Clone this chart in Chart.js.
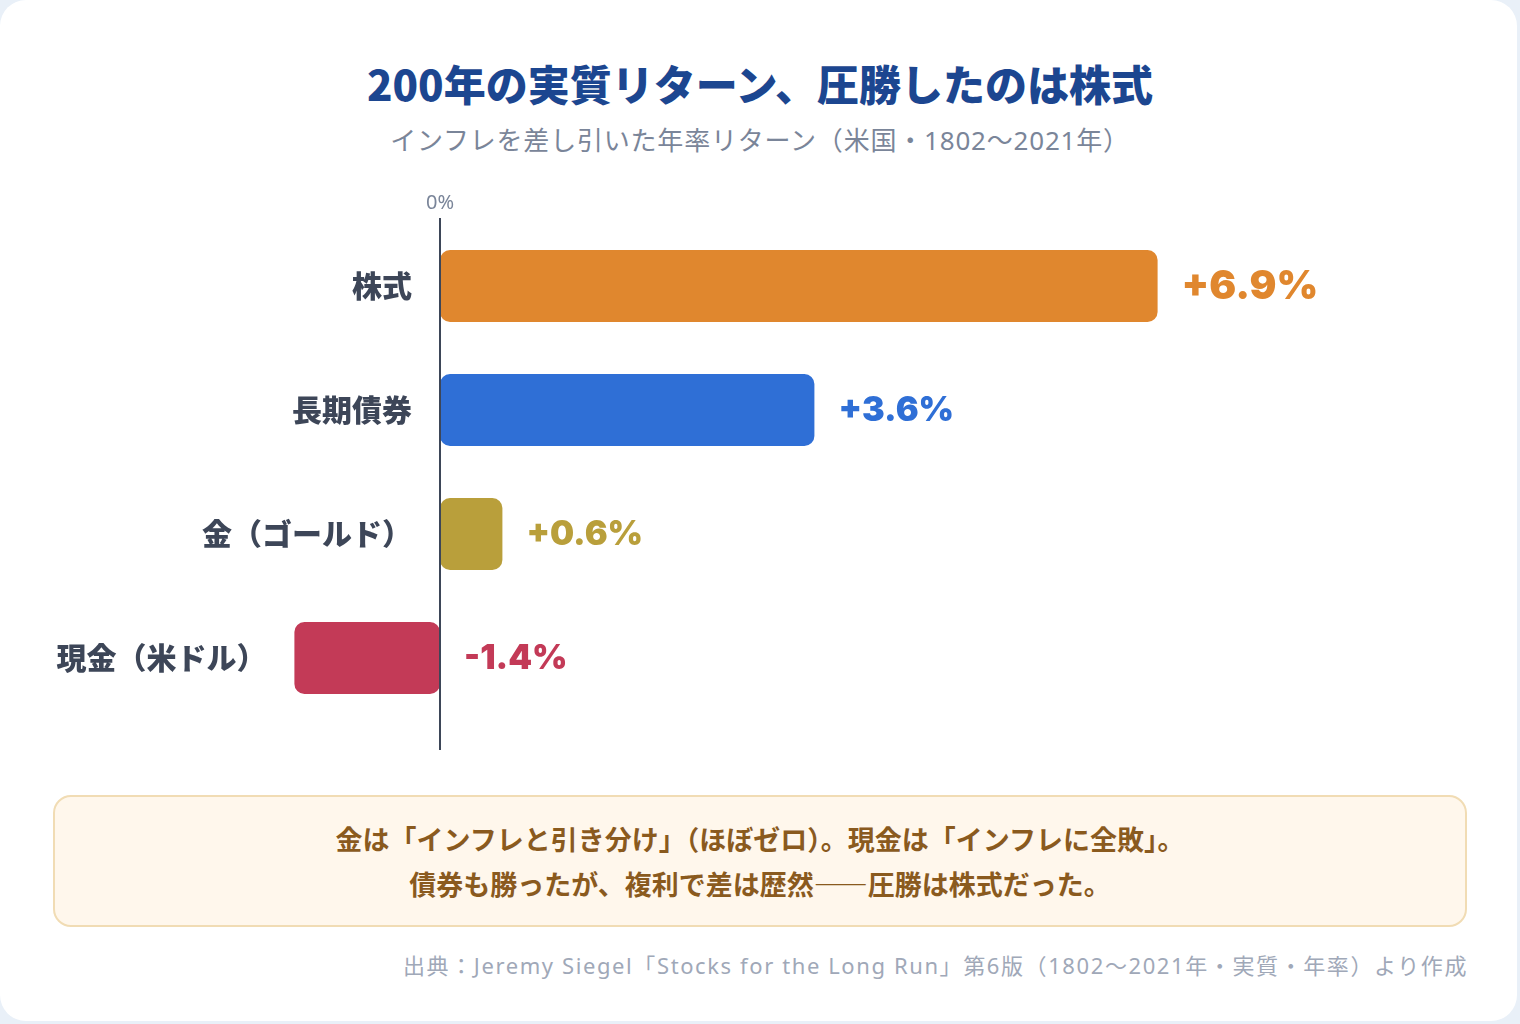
<!DOCTYPE html>
<html lang="ja">
<head>
<meta charset="utf-8">
<script src="https://cdn.jsdelivr.net/npm/chart.js@4"></script>
<style>
  body { margin: 0; background: #e9f0f8; font-family: "Noto Sans CJK JP", "Noto Sans", sans-serif; }
  .card { position: absolute; left: 0; top: 0; width: 1517px; height: 1021px; background: #fff; border-radius: 26px; }
  h1 { position: absolute; left: 0; top: 53px; width: 1520px; margin: 0; text-align: center;
       font-size: 42px; font-weight: 900; color: #1c4690; line-height: 60px; }
  .sub { position: absolute; left: 0; top: 121px; width: 1520px; text-align: center;
         font-family: "Noto Sans", "Noto Sans CJK JP", sans-serif; letter-spacing: 0.8px;
         font-size: 26px; color: #7a8599; line-height: 38px; }
  .wrap { position: absolute; left: 0; top: 180px; width: 1520px; height: 600px; }
  .note { position: absolute; left: 53px; top: 795px; width: 1414px; height: 132px; box-sizing: border-box;
          background: #fff7ec; border: 2px solid #f1dcb4; border-radius: 18px; text-align: center;
          font-size: 27px; font-weight: 700; color: #8a5a1e; line-height: 45px; padding-top: 19px; }
  .src { position: absolute; right: 52px; top: 949px; font-family: "Noto Sans", "Noto Sans CJK JP", sans-serif;
         font-size: 22px; letter-spacing: 1.6px; color: #a0a8b8; line-height: 32px; }
</style>
</head>
<body>
<div class="card"></div>
<h1>200年の実質リターン、圧勝したのは株式</h1>
<div class="sub">インフレを差し引いた年率リターン（米国・1802〜2021年）</div>
<div class="wrap"><canvas id="grafica"></canvas></div>
<div class="note">金は「インフレと引き分け」（ほぼゼロ）。現金は「インフレに全敗」。<br>債券も勝ったが、複利で差は歴然――圧勝は株式だった。</div>
<div class="src">出典：Jeremy Siegel「Stocks for the Long Run」第6版（1802〜2021年・実質・年率）より作成</div>
<script>
const categorias = ["株式", "長期債券", "金（ゴールド）", "現金（米ドル）"];
const retornos = [6.9, 3.6, 0.6, -1.4];
const colores = ["#e0872e", "#2f6fd6", "#b99f3b", "#c33a57"];
const etiquetas = ["+6.9%", "+3.6%", "+0.6%", "-1.4%"];

// eje cero, "0%", nombres de categoria y valores
const rotulos = {
  id: "rotulos",
  afterDatasetsDraw(chart) {
    const { ctx, chartArea, scales: { x, y } } = chart;
    const x0 = x.getPixelForValue(0);
    ctx.save();
    ctx.strokeStyle = "#3d4658";
    ctx.lineWidth = 2;
    ctx.beginPath();
    ctx.moveTo(x0, chartArea.top - 6);
    ctx.lineTo(x0, chartArea.bottom + 30);
    ctx.stroke();

    ctx.fillStyle = "#7a8599";
    ctx.font = "20px 'Noto Sans', sans-serif";
    ctx.textAlign = "center";
    ctx.textBaseline = "middle";
    ctx.fillText("0%", x0, chartArea.top - 21);

    retornos.forEach((v, i) => {
      const yc = y.getPixelForValue(i);
      const xv = x.getPixelForValue(v);
      ctx.textAlign = "right";
      ctx.fillStyle = "#3d4658";
      ctx.font = "900 30px 'Noto Sans CJK JP', sans-serif";
      ctx.fillText(categorias[i], Math.min(x0, xv) - 28, yc);

      ctx.textAlign = "left";
      ctx.fillStyle = colores[i];
      ctx.font = (i === 0 ? "900 40px" : "900 34px") + " Inter, sans-serif";
      ctx.fillText(etiquetas[i], Math.max(x0, xv) + 24, yc + 1);
    });
    ctx.restore();
  }
};

window.onload = () => {
  new Chart(document.getElementById("grafica"), {
    type: "bar",
    data: {
      labels: categorias,
      datasets: [{
        data: retornos,
        backgroundColor: colores,
        borderRadius: 10,
        borderSkipped: false,
        barPercentage: 0.58,
        categoryPercentage: 1,
      }],
    },
    options: {
      indexAxis: "y",
      responsive: true,
      maintainAspectRatio: false,
      animation: false,
      layout: { padding: { left: 24, right: 40, top: 44, bottom: 60 } },
      plugins: { legend: { display: false }, tooltip: { enabled: false } },
      scales: {
        x: { display: false, min: -4, max: 10 },
        y: { display: false },
      },
    },
    plugins: [rotulos],
  });
};
</script>
</body>
</html>
